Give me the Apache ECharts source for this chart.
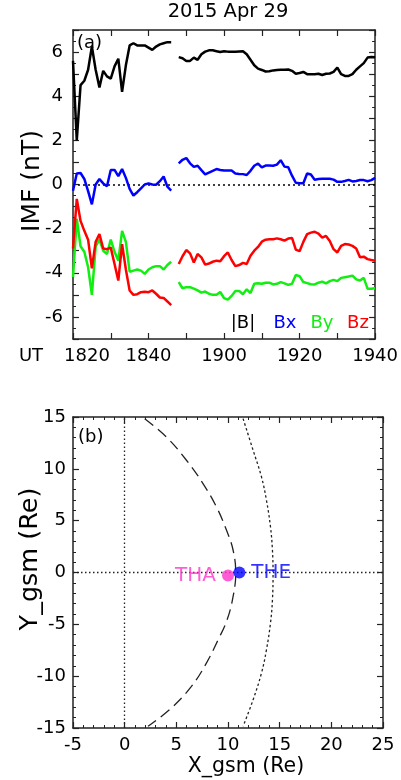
<!DOCTYPE html>
<html>
<head>
<meta charset="utf-8">
<script src="https://cdn.jsdelivr.net/npm/echarts@6/dist/echarts.min.js"></script>
<style>
  html, body { margin: 0; padding: 0; background: #fff; }
  #chart { width: 401px; height: 780px; }
</style>
</head>
<body>
<div id="chart"></div>
<script>
// ---- Panel (a): IMF components, minutes after 18:20 UT ----
const minutesA = [0, 1, 2, 3, 4, 5, 6, 7, 8, 9, 10, 11, 12, 13, 14, 15, 16, 17, 18, 19, 20, 21, 22, 23, 24, 25, 26];
const minutesB = [28, 29, 30, 31, 32, 33, 34, 35, 36, 37, 38, 39, 40, 41, 42, 43, 44, 45, 46, 47, 48, 49, 50, 51, 52, 53, 54,
                  55, 56, 57, 58, 59, 60, 61, 62, 63, 64, 65, 66, 67, 68, 69, 70, 71, 72, 73, 74, 75, 76, 77, 78, 79, 80];

const bMagA = [5.6, 2.0, 4.5, 4.7, 5.2, 6.25, 5.2, 4.4, 5.15, 4.9, 4.8, 5.35, 5.7, 4.2, 5.4, 6.3, 6.4, 6.3, 6.3, 6.3, 6.2,
               6.1, 6.25, 6.35, 6.4, 6.45, 6.45];
const bMagB = [5.77, 5.72, 5.6, 5.6, 5.75, 5.65, 5.9, 6.02, 6.08, 6.08, 6.04, 6.0, 6.04, 6.02, 6.02, 6.02, 6.03, 6.04, 5.9,
               5.65, 5.4, 5.25, 5.19, 5.12, 5.13, 5.17, 5.19, 5.2, 5.2, 5.21, 5.15, 5.02, 5.05, 5.1, 5.0, 5.0, 5.0, 5.02,
               4.96, 5.02, 5.03, 5.1, 5.3, 5.0, 4.92, 4.92, 5.0, 5.2, 5.35, 5.5, 5.75, 5.78, 5.77];

const bxA = [-0.28, 0.5, 0.52, 0.25, -0.3, -0.9, 0.0, 0.25, 0.05, -0.08, 0.66, 0.66, 0.38, 0.7, 0.3, -0.2, -0.5, -0.35,
             -0.18, 0.0, 0.05, 0.0, -0.01, 0.15, 0.36, -0.1, -0.28];
const bxB = [0.96, 1.12, 1.2, 0.96, 0.8, 0.85, 0.65, 0.46, 0.54, 0.62, 0.7, 0.66, 0.63, 0.63, 0.63, 0.5, 0.48, 0.47, 0.43,
             0.62, 0.85, 0.95, 0.78, 0.86, 0.86, 0.85, 0.9, 1.1, 0.81, 0.78, 0.4, 0.08, 0.06, 0.06, 0.5, 0.45, 0.22, 0.25,
             0.26, 0.26, 0.26, 0.22, 0.12, 0.12, 0.16, 0.21, 0.14, 0.16, 0.2, 0.2, 0.15, 0.2, 0.3];

const byA = [-4.2, -1.55, -2.8, -3.05, -3.75, -5.0, -2.8, -2.5, -3.0, -3.15, -2.5, -3.05, -3.45, -2.1, -2.6, -3.95, -3.9,
             -3.85, -3.9, -4.05, -3.85, -3.75, -3.7, -3.7, -3.85, -3.65, -3.5];
const byB = [-4.42, -4.7, -4.65, -4.65, -4.72, -4.8, -4.9, -4.85, -4.95, -5.0, -5.0, -4.87, -5.15, -5.22, -5.05, -4.82,
             -4.82, -4.97, -4.75, -4.92, -4.5, -4.47, -4.5, -4.45, -4.45, -4.53, -4.5, -4.42, -4.48, -4.55, -4.5, -4.1,
             -4.15, -4.42, -4.47, -4.52, -4.53, -4.45, -4.4, -4.48, -4.38, -4.32, -4.38, -4.23, -4.2, -4.17, -4.13, -4.3,
             -4.35, -4.23, -4.72, -4.72, -4.7];

const bzA = [-2.9, -0.65, -1.65, -2.1, -2.5, -3.8, -2.6, -2.25, -2.9, -2.93, -2.86, -3.6, -4.35, -2.7, -3.85, -4.8, -5.0,
             -4.97, -4.88, -4.86, -4.88, -4.8, -4.95, -5.12, -5.14, -5.3, -5.47];
const bzB = [-3.6, -3.25, -2.97, -3.12, -3.53, -3.15, -3.3, -3.63, -3.58, -3.5, -3.45, -3.48, -3.25, -3.08, -3.42, -3.7,
             -3.65, -3.55, -3.6, -3.23, -3.0, -2.83, -2.59, -2.5, -2.48, -2.48, -2.44, -2.48, -2.54, -2.45, -2.42, -2.95,
             -3.02, -2.6, -2.25, -2.18, -2.14, -2.23, -2.41, -2.33, -2.56, -2.93, -3.08, -2.78, -2.7, -2.72, -2.78, -2.9,
             -3.3, -3.27, -3.38, -3.42, -3.45];

const utTickMinutes = [0, 20, 40, 60, 80];
const utTickLabels = ['1820', '1840', '1900', '1920', '1940'];
const imfTickLabels = ['-6', '-4', '-2', '0', '2', '4', '6'];

// ---- Panel (b): spacecraft positions and boundaries (GSM, Re) ----
const mpX = [1.94, 4.04, 5.98, 7.58, 8.88, 9.85, 10.49, 10.75, 10.49, 9.91, 9.04, 7.91, 6.46, 4.52, 2.26];
const mpY = [14.84, 13.07, 10.83, 8.58, 6.33, 4.09, 2.17, -0.08, -2.33, -4.57, -6.5, -8.74, -10.99, -13.07, -14.84];
const bsX = [11.46, 12.43, 13.24, 13.72, 14.11, 14.3, 14.36, 14.3, 14.11, 13.72, 13.24, 12.43, 11.46];
const bsY = [14.84, 11.79, 9.22, 6.98, 4.41, 2.17, -0.08, -2.65, -4.89, -7.46, -9.7, -12.27, -14.84];
const probeNames = ['THA', 'THE'];
const probeX = [10.0, 11.1];
const probeY = [-0.3, 0.0];
const probeColors = ['#ff33cc', '#0000ff'];

const FONT = 'DejaVu Sans';
const INK = '#222';

const pairs = (xs, ys) => xs.map((x, i) => [x, ys[i]]);

function frameAxis(extra) {
  return Object.assign({
    type: 'value',
    axisLine: { show: true, onZero: false, lineStyle: { color: INK, width: 1.5 } },
    axisTick: { show: true, inside: true, length: 6, lineStyle: { color: INK, width: 1.2 } },
    minorTick: { show: false },
    splitLine: { show: false },
    axisLabel: { show: false }
  }, extra);
}

const labelStyle = { color: '#000', fontSize: 18, fontFamily: FONT };

const xAxes = [
  frameAxis({
    gridIndex: 0, position: 'bottom', min: 0, max: 80, interval: 10,
    axisLabel: Object.assign({
      show: true, margin: 8,
      formatter: v => {
        const k = utTickMinutes.indexOf(v);
        if (k < 0) return '';
        return k === 0 ? '{first|' + utTickLabels[k] + '}' : utTickLabels[k];
      },
      rich: { first: { fontSize: 18, fontFamily: FONT, color: '#000', padding: [0, 0, 0, 28] } }
    }, labelStyle)
  }),
  frameAxis({ gridIndex: 0, position: 'top', min: 0, max: 80, interval: 10 }),
  frameAxis({
    gridIndex: 1, position: 'bottom', min: -5, max: 25, interval: 5,
    minorTick: { show: true, splitNumber: 5, length: 3, lineStyle: { color: INK, width: 1 } },
    axisLabel: Object.assign({ show: true, margin: 8 }, labelStyle)
  }),
  frameAxis({
    gridIndex: 1, position: 'top', min: -5, max: 25, interval: 5,
    minorTick: { show: true, splitNumber: 5, length: 3, lineStyle: { color: INK, width: 1 } }
  })
];

const yAxes = [
  frameAxis({
    gridIndex: 0, position: 'left', min: -7, max: 7, interval: 1,
    minorTick: { show: true, splitNumber: 2, length: 3, lineStyle: { color: INK, width: 1 } },
    axisLabel: Object.assign({
      show: true, margin: 10,
      formatter: v => {
        const s = String(v);
        return imfTickLabels.indexOf(s) >= 0 ? s : '';
      }
    }, labelStyle)
  }),
  frameAxis({
    gridIndex: 0, position: 'right', min: -7, max: 7, interval: 1,
    minorTick: { show: true, splitNumber: 2, length: 3, lineStyle: { color: INK, width: 1 } }
  }),
  frameAxis({
    gridIndex: 1, position: 'left', min: -15, max: 15, interval: 5,
    minorTick: { show: true, splitNumber: 5, length: 3, lineStyle: { color: INK, width: 1 } },
    axisLabel: Object.assign({ show: true, margin: 7 }, labelStyle)
  }),
  frameAxis({
    gridIndex: 1, position: 'right', min: -15, max: 15, interval: 5,
    minorTick: { show: true, splitNumber: 5, length: 3, lineStyle: { color: INK, width: 1 } }
  })
];

function imfLine(name, xs, ys, color, extra) {
  return Object.assign({
    name, type: 'line', xAxisIndex: 0, yAxisIndex: 0,
    data: pairs(xs, ys), showSymbol: false, symbol: 'none',
    lineStyle: { color, width: 2.5 }, itemStyle: { color },
    z: 3
  }, extra || {});
}

const dotted = { type: [1.5, 2.5], color: '#222', width: 1.3 };

const series = [
  imfLine('|B|', minutesA, bMagA, '#000', {
    markLine: {
      silent: true, symbol: 'none', label: { show: false },
      lineStyle: { type: [2, 3], color: '#000', width: 1.6 },
      data: [{ yAxis: 0 }], z: 1
    }
  }),
  imfLine('|B|', minutesB, bMagB, '#000'),
  imfLine('Bx', minutesA, bxA, '#0000ff'),
  imfLine('Bx', minutesB, bxB, '#0000ff'),
  imfLine('By', minutesA, byA, '#11ee11'),
  imfLine('By', minutesB, byB, '#11ee11'),
  imfLine('Bz', minutesA, bzA, '#ff0000'),
  imfLine('Bz', minutesB, bzB, '#ff0000'),
  {
    name: 'magnetopause', type: 'line', xAxisIndex: 2, yAxisIndex: 2,
    data: pairs(mpX, mpY), smooth: 0.4, showSymbol: false, symbol: 'none',
    lineStyle: { color: '#222', width: 1.3, type: [11, 6] },
    markLine: {
      silent: true, symbol: 'none', label: { show: false },
      lineStyle: dotted,
      data: [{ xAxis: 0 }, { yAxis: 0 }]
    }
  },
  {
    name: 'bow shock', type: 'line', xAxisIndex: 2, yAxisIndex: 2,
    data: pairs(bsX, bsY), smooth: 0.4, showSymbol: false, symbol: 'none',
    lineStyle: { color: '#222', width: 1.3, type: [2.5, 2.5] }
  }
].concat(probeNames.map((nm, i) => ({
  name: nm, type: 'scatter', xAxisIndex: 2, yAxisIndex: 2,
  data: [[probeX[i], probeY[i]]],
  symbol: 'circle', symbolSize: 12,
  itemStyle: { color: probeColors[i] },
  label: {
    show: true, formatter: nm, position: i === 0 ? 'left' : 'right', distance: 6,
    color: probeColors[i], fontSize: 20, fontFamily: FONT
  },
  z: 5
})));

function txt(x, y, text, color, opts) {
  return {
    type: 'text', x, y, silent: true,
    rotation: (opts && opts.rotation) || 0,
    style: {
      text, fill: color || '#000',
      font: ((opts && opts.size) || 18) + 'px "' + FONT + '"',
      textAlign: (opts && opts.align) || 'center',
      textVerticalAlign: 'middle'
    }
  };
}

const graphics = [
  txt(228, 12, '2015 Apr 29', '#000', { size: 19.5 }),
  txt(77, 43, '(a)', '#000', { align: 'left' }),
  txt(78, 437, '(b)', '#000', { align: 'left' }),
  txt(243, 323, '|B|', '#000'),
  txt(285, 323, 'Bx', '#0000ff'),
  txt(322, 323, 'By', '#11ee11'),
  txt(358, 323, 'Bz', '#ff0000'),
  txt(31, 356, 'UT', '#000'),
  txt(32, 181, 'IMF (nT)', '#000', { rotation: Math.PI / 2, size: 25 }),
  txt(30, 559, 'Y_gsm (Re)', '#000', { rotation: Math.PI / 2, size: 25.5 }),
  txt(246, 767, 'X_gsm (Re)', '#000', { size: 20.5 })
];

const chart = echarts.init(document.getElementById('chart'), null, { renderer: 'canvas' });
chart.setOption({
  animation: false,
  backgroundColor: '#fff',
  grid: [
    { left: 73, top: 30, width: 310, height: 309 },
    { left: 73, top: 417, width: 310, height: 311 }
  ],
  xAxis: xAxes,
  yAxis: yAxes,
  series,
  graphic: graphics
});
</script>
</body>
</html>
